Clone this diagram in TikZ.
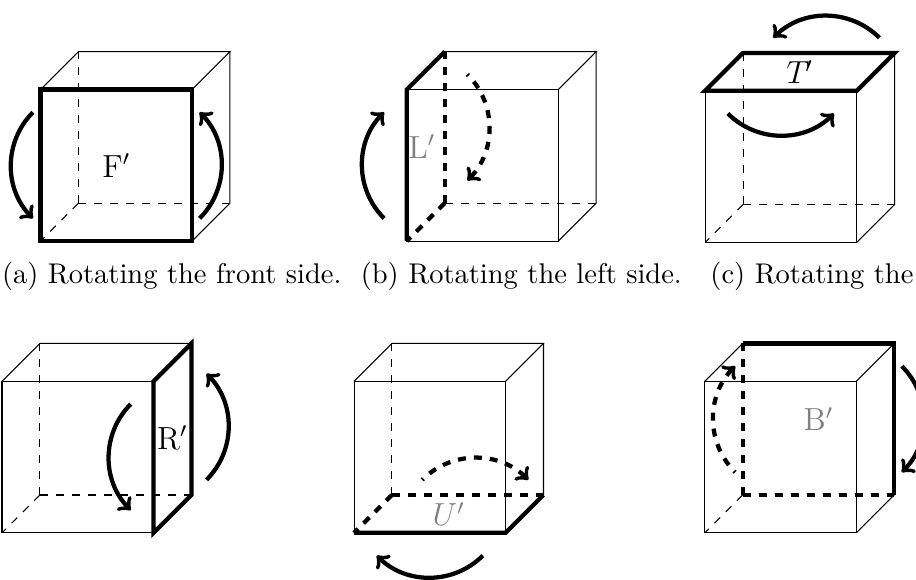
\documentclass[tikz,border=0pt]{standalone}
\usepackage{xcolor}
\newcommand{\cubeframe}{%
    \draw[edge] (0,0) rectangle (2,2);
    \draw[edge] (0,2) -- (.5,2.5) -- (2.5,2.5) -- (2,2);
    \draw[edge] (2.5,2.5) -- (2.5,.5) -- (2,0);
    \draw[hidden] (.5,.5) -- (0,0);
    \draw[hidden] (.5,.5) -- (2.5,.5);
    \draw[hidden] (.5,.5) -- (.5,2.5);
}

\begin{document}
\begin{tikzpicture}[
    edge/.style={thin, black},
    hidden/.style={thin, dashed, black},
    side/.style={ultra thick, black},
    backside/.style={ultra thick, dashed, black},
    turn/.style={->, ultra thick},
    backturn/.style={->, ultra thick, dash pattern=on 3pt off 3pt, dash phase=2.4pt},
    caption/.style={anchor=base west, inner sep=0pt, font=\fontsize{10.7}{13}\selectfont},
    letter/.style={font=\fontsize{12}{14}\selectfont},
    back/.style={letter, color=gray},
]
\path[use as bounding box, clip] (0,0) rectangle (12.09,7.644);

% Front
\begin{scope}[shift={(0.535,4.462)}]
\cubeframe
\draw[side] (0,0) rectangle (2,2);
\node[letter] (labelF) at (1,1) {F$'$};
\draw[turn] (-.1,1.7) to[bend right=45] (-.1,.3);
\draw[turn] (2.1,.3) to[bend right=45] (2.1,1.7);
\end{scope}

% Left
\begin{scope}[shift={(5.369,4.462)}]
\cubeframe
\draw[side] (0,0) -- (0,2) -- (.5,2.5);
\draw[backside] (.5,.5) -- (.5,2.5);
\draw[backside] (.5,.5) -- (0,0);
\node[back] (labelL) at (.2,1.25) {L$'$};
\draw[turn] (-.3,.3) to[bend left=45] (-.3,1.7);
\draw[backturn] (.8,2.2) to[bend left=45] (.8,.8);
\end{scope}

% Top
\begin{scope}[shift={(9.307,4.445)}]
\cubeframe
\draw[side] (0,2) -- (2,2) -- (2.5,2.5) -- (.5,2.5) -- cycle;
\node[letter] (labelT) at (1.25,2.25) {$T\mkern-2mu'$};
\draw[turn] (2.3,2.7) to[bend right=45] (.9,2.7);
\draw[turn] (.3,1.7) to[bend right=45] (1.7,1.7);
\end{scope}

% Right
\begin{scope}[shift={(0.026,0.611)}]
\cubeframe
\draw[side] (2,0) -- (2.5,.5) -- (2.5,2.5) -- (2,2) -- cycle;
\node[letter] (labelR) at (2.25,1.25) {R$'$};
\draw[turn] (1.7,1.7) to[bend right=45] (1.7,.3);
\draw[turn] (2.7,.7) to[bend right=45] (2.7,2.1);
\end{scope}

% Bottom
\begin{scope}[shift={(4.673,0.611)}]
\cubeframe
\draw[side] (0,0) -- (2,0) -- (2.5,.5);
\draw[backside] (.5,.5) -- (2.5,.5);
\draw[backside] (.5,.5) -- (0,0);
\node[back] (labelU) at (1.25,.25) {$U'$};
\draw[turn] (1.7,-.3) to[bend left=45] (.3,-.3);
\draw[backturn] (.9,.7) to[bend left=45] (2.3,.7);
\end{scope}

% Back
\begin{scope}[shift={(9.303,0.611)}]
\cubeframe
\draw[side] (.5,2.5) -- (2.5,2.5) -- (2.5,.5);
\draw[backside] (.5,.5) -- (2.5,.5);
\draw[backside] (.5,.5) -- (.5,2.5);
\node[back] (labelB) at (1.5,1.5) {B$'$};
\draw[turn] (2.6,2.2) to[bend left=45] (2.6,.8);
\draw[backturn] (.4,.8) to[bend left=45] (.4,2.2);
\end{scope}

% Captions
\node[caption] (capA) at (0.02,3.9) {(a) Rotating the front side.};
\node[caption] (capB) at (4.755,3.9) {(b) Rotating the left side.};
\node[caption] (capC) at (9.37,3.9) {(c) Rotating the};
\end{tikzpicture}
\end{document}
